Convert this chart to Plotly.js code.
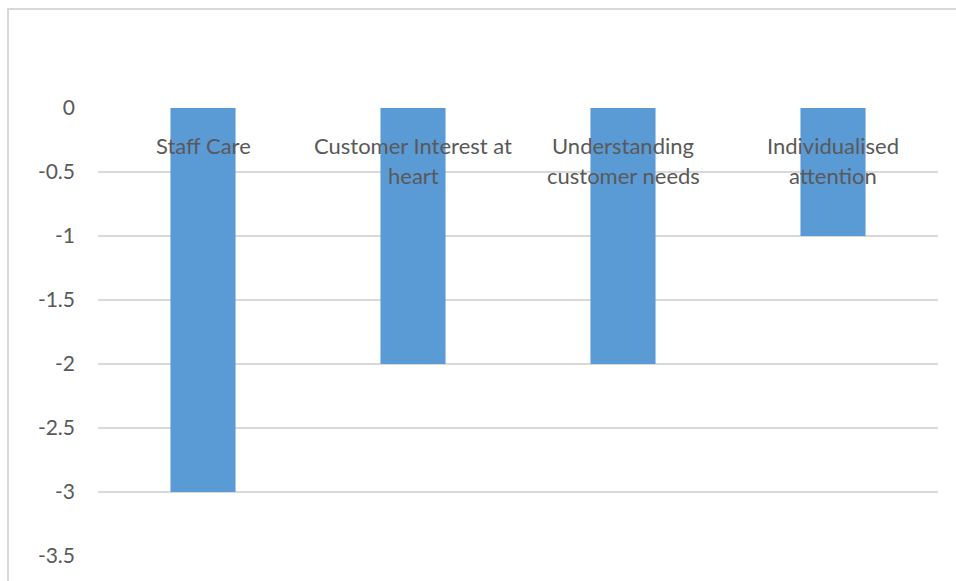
<!DOCTYPE html>
<html>
<head>
<meta charset="utf-8">
<script src="https://cdn.plot.ly/plotly-3.0.1.min.js"></script>
<style>
  html, body { margin: 0; padding: 0; background: #fff; }
  #chart { width: 956px; height: 581px; position: absolute; left: 0; top: 0; }
  #frame { position: absolute; left: 7px; top: 8px; width: 1000px; height: 700px;
           border-left: 2px solid #d9d9d9; border-top: 2px solid #d9d9d9; pointer-events: none; }
</style>
</head>
<body>
<div id="chart"></div>
<div id="frame"></div>
<script>
const categories = ['Staff Care', 'Customer Interest at heart', 'Understanding customer needs', 'Individualised attention'];
const labelLines = [['Staff Care'], ['Customer Interest at', 'heart'], ['Understanding', 'customer needs'], ['Individualised', 'attention']];
const values = [-3, -2, -2, -1];
const yTickVals = [0, -0.5, -1, -1.5, -2, -2.5, -3, -3.5];
const yTickText = ['0', '-0.5', '-1', '-1.5', '-2', '-2.5', '-3', '-3.5'];

const fontFamily = 'Lato, "Open Sans", sans-serif';
const textColor = '#595959';

const annotations = [];
categories.forEach((c, i) => {
  labelLines[i].forEach((line, j) => {
    annotations.push({
      x: c, y: 0, xref: 'x', yref: 'y',
      text: line, showarrow: false,
      xanchor: 'center', yanchor: 'middle',
      yshift: -(37 + 30 * j),
      font: { family: fontFamily, size: 22, color: textColor }
    });
  });
});

const trace = {
  type: 'bar',
  x: categories,
  y: values,
  marker: { color: '#5b9bd5' },
  hoverinfo: 'none'
};

const layout = {
  width: 956, height: 581,
  margin: { l: 98, r: 18, t: 108, b: 25 },
  paper_bgcolor: '#ffffff', plot_bgcolor: '#ffffff',
  showlegend: false,
  bargap: 0.69,
  xaxis: {
    type: 'category',
    showticklabels: false, showgrid: false, zeroline: false, showline: false, ticks: ''
  },
  yaxis: {
    range: [-3.5, 0],
    tickvals: yTickVals, ticktext: yTickText,
    showgrid: true, gridcolor: '#d9d9d9', gridwidth: 1.5,
    zeroline: false, showline: false, ticks: '',
    ticklabelstandoff: 22,
    tickfont: { family: fontFamily, size: 21, color: textColor }
  },
  annotations: annotations
};

Plotly.newPlot('chart', [trace], layout, { displayModeBar: false, staticPlot: true });
</script>
</body>
</html>
